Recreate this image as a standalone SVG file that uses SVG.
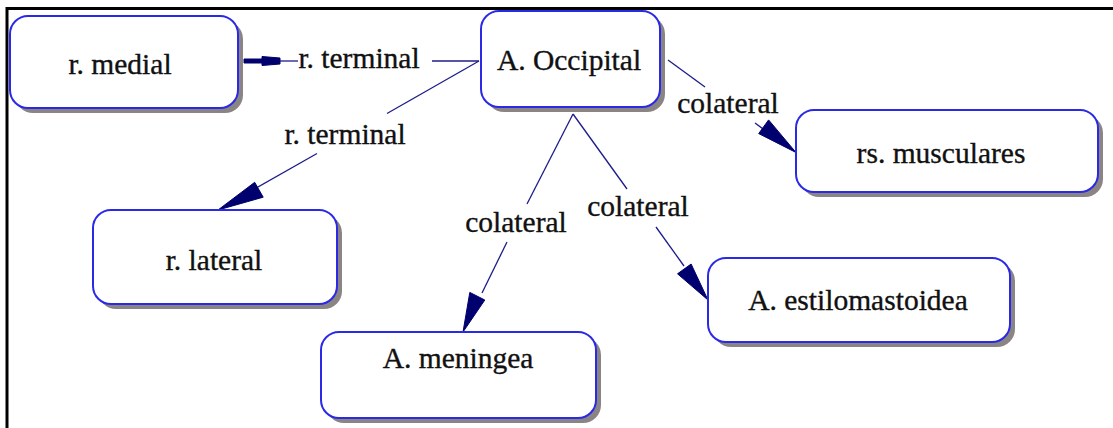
<svg xmlns="http://www.w3.org/2000/svg" width="1113" height="428" viewBox="0 0 1113 428">
  <style>
    .shadow { fill: #8b8484; }
    .box { fill: #ffffff; stroke: #2a2ae6; stroke-width: 2; }
    .label { font-family: "Liberation Serif", "Times New Roman", serif; font-size: 29.5px; fill: #111111; stroke: #111111; stroke-width: 0.35; text-anchor: middle; }
    .edge { fill: none; stroke: #1c1c8a; stroke-width: 1.3; }
    .head { fill: #00006e; stroke: #00006e; stroke-width: 1; stroke-linejoin: miter; }
  </style>

  <rect x="0" y="0" width="1113" height="428" fill="#ffffff"/>
  <!-- frame -->
  <path d="M7,428 V8.5 H1113" fill="none" stroke="#000000" stroke-width="3"/>

  <!-- connectors -->
  <g id="connectors">
    <!-- A. Occipital -> r. medial -->
    <line class="edge" x1="479" y1="61" x2="432" y2="61"/>
    <line class="edge" x1="298" y1="61" x2="278" y2="61"/>
    <polygon class="head" points="244,59 262,59 262,56.5 280,58 280,64 262,65.5 262,63 244,63"/>
    <text class="label" x="359" y="68">r. terminal</text>

    <!-- A. Occipital -> r. lateral -->
    <line class="edge" x1="479" y1="61" x2="387" y2="113.5"/>
    <line class="edge" x1="317" y1="153.5" x2="252" y2="190.5"/>
    <polygon class="head" points="218,210 254.7,182.3 263.2,197.2"/>
    <text class="label" x="345" y="144">r. terminal</text>

    <!-- A. Occipital -> rs. musculares -->
    <line class="edge" x1="668" y1="60" x2="705" y2="87"/>
    <line class="edge" x1="755" y1="123" x2="770" y2="134"/>
    <polygon class="head" points="796,152.5 758.7,133.6 768.6,119.9"/>
    <text class="label" x="728" y="113">colateral</text>

    <!-- A. Occipital -> A. meningea -->
    <line class="edge" x1="573" y1="114" x2="527" y2="204"/>
    <line class="edge" x1="507" y1="242" x2="482" y2="293"/>
    <polygon class="head" points="463,332 469.8,292.4 484.8,300"/>
    <text class="label" x="516" y="232">colateral</text>

    <!-- A. Occipital -> A. estilomastoidea -->
    <line class="edge" x1="573" y1="114" x2="627" y2="189"/>
    <line class="edge" x1="656" y1="227" x2="684" y2="266"/>
    <polygon class="head" points="708,300 677.5,273.8 691.1,264"/>
    <text class="label" x="638" y="216">colateral</text>
  </g>

  <!-- nodes -->
  <g id="r-medial">
    <rect class="shadow" x="15" y="21" width="228" height="92" rx="18"/>
    <rect class="box" x="10" y="16" width="228" height="92" rx="18"/>
    <text class="label" x="120" y="74">r. medial</text>
  </g>

  <g id="a-occipital">
    <rect class="shadow" x="486" y="16" width="179" height="96" rx="18"/>
    <rect class="box" x="481" y="11" width="179" height="96" rx="18"/>
    <text class="label" x="569" y="70">A. Occipital</text>
  </g>

  <g id="rs-musculares">
    <rect class="shadow" x="801" y="115" width="302" height="82" rx="18"/>
    <rect class="box" x="796" y="110" width="302" height="82" rx="18"/>
    <text class="label" x="941" y="163">rs. musculares</text>
  </g>

  <g id="r-lateral">
    <rect class="shadow" x="98" y="215" width="244" height="94" rx="18"/>
    <rect class="box" x="93" y="210" width="244" height="94" rx="18"/>
    <text class="label" x="214" y="270">r. lateral</text>
  </g>

  <g id="a-meningea">
    <rect class="shadow" x="326" y="337" width="275" height="86" rx="18"/>
    <rect class="box" x="321" y="332" width="275" height="86" rx="18"/>
    <text class="label" x="458" y="368">A. meningea</text>
  </g>

  <g id="a-estilomastoidea">
    <rect class="shadow" x="713" y="263" width="302" height="84" rx="18"/>
    <rect class="box" x="708" y="258" width="302" height="84" rx="18"/>
    <text class="label" x="858" y="310">A. estilomastoidea</text>
  </g>
</svg>
